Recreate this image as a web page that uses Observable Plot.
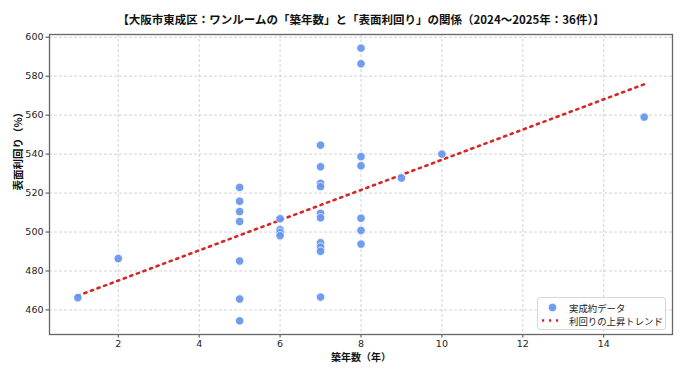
<!DOCTYPE html>
<html>
<head>
<meta charset="utf-8">
<script src="https://cdn.jsdelivr.net/npm/d3@7"></script>
<script src="https://cdn.jsdelivr.net/npm/@observablehq/plot@0.6"></script>
<style>
  html, body { margin: 0; padding: 0; background: #fff; }
  #wrap { position: relative; width: 682px; height: 375px; }
  .legend {
    position: absolute; left: 537px; top: 297px; width: 129px; height: 33px;
    box-sizing: border-box; border: 1px solid #d8d8d8; border-radius: 3px; background: rgba(255,255,255,0.85);
    font-family: "Noto Sans CJK JP", sans-serif; font-size: 9.4px; color: #222;
  }
  .legend .row { position: absolute; left: 0; height: 13px; display: flex; align-items: center; }
  .legend svg { display: block; }
</style>
</head>
<body>
<div id="wrap"></div>
<script>
// Building age (years) and surface yield for each closed deal
const ages = [1, 2,
  5, 5, 5, 5, 5, 5, 5,
  6, 6, 6, 6,
  7, 7, 7, 7, 7, 7, 7, 7, 7, 7,
  8, 8, 8, 8, 8, 8, 8,
  9, 10, 15];
const yields = [466.3, 486.4,
  522.9, 515.8, 510.5, 505.4, 485.1, 465.6, 454.4,
  506.8, 501.2, 499.8, 498.1,
  544.6, 533.5, 525.0, 523.3, 509.6, 507.3, 494.5, 492.3, 490.1, 466.6,
  594.4, 586.4, 538.7, 534.0, 507.1, 500.8, 493.8,
  527.7, 540.0, 559.0];
const xTicks = [2, 4, 6, 8, 10, 12, 14];
const yTicks = [460, 480, 500, 520, 540, 560, 580, 600];

const titleText = "【大阪市東成区：ワンルームの「築年数」と「表面利回り」の関係（2024〜2025年：36件）】";
const xLabel = "築年数（年）";
const yLabel = "表面利回り（%）";
const legendLabels = ["実成約データ", "利回りの上昇トレンド"];

const deals = ages.map((a, i) => ({age: a, yield: yields[i]}));

const pointColor = "#6495ED";
const trendColor = "#d62728";
const jp = "'Noto Sans CJK JP', sans-serif";

const chart = Plot.plot({
  width: 682,
  height: 375,
  marginLeft: 49,
  marginRight: 10,
  marginTop: 34,
  marginBottom: 41,
  style: {fontFamily: "'DejaVu Sans', sans-serif", fontSize: "9.5px", color: "#222", background: "#fff"},
  x: {domain: [0.3, 15.7]},
  y: {domain: [447.4, 601.4]},
  marks: [
    Plot.gridX(xTicks, {stroke: "#bbb", strokeOpacity: 0.8, strokeDasharray: "3,2", strokeWidth: 0.8}),
    Plot.gridY(yTicks, {stroke: "#bbb", strokeOpacity: 0.8, strokeDasharray: "3,2", strokeWidth: 0.8}),
    Plot.axisX(xTicks, {tickSize: 3.5, tickPadding: 2.5, label: null, stroke: "#444"}),
    Plot.axisY(yTicks, {tickSize: 3.5, tickPadding: 2.5, label: null, stroke: "#444"}),
    Plot.frame({stroke: "#666", strokeWidth: 1.3}),
    Plot.linearRegressionY(deals, {
      x: "age", y: "yield", ci: 0,
      stroke: trendColor, strokeWidth: 2.6, strokeDasharray: "2.2,4.8"
    }),
    Plot.dot(deals, {
      x: "age", y: "yield", r: 4.2,
      fill: pointColor, fillOpacity: 0.92, stroke: "#fff", strokeWidth: 0.7
    }),
    Plot.text([titleText], {
      frameAnchor: "top", dy: -19, fontFamily: jp, fontSize: 11.5, fontWeight: "bold", fill: "#111"
    }),
    Plot.text([xLabel], {
      frameAnchor: "bottom", dy: 26, fontFamily: jp, fontSize: 10, fontWeight: "bold", fill: "#111"
    }),
    Plot.text([yLabel], {
      frameAnchor: "left", dx: -31, dy: 6, rotate: -90, fontFamily: jp, fontSize: 10.5, fontWeight: "bold", fill: "#111"
    })
  ]
});

const wrap = document.getElementById("wrap");
wrap.appendChild(chart);

// Legend box inside the lower right of the plot area
const legend = document.createElement("div");
legend.className = "legend";
legend.innerHTML = `
  <div class="row" style="top:3px">
    <svg width="30" height="13"><circle cx="14.5" cy="6.5" r="4.2" fill="${pointColor}" fill-opacity="0.92" stroke="#fff" stroke-width="0.7"/></svg>
    <span style="margin-left:1px">${legendLabels[0]}</span>
  </div>
  <div class="row" style="top:16px">
    <svg width="30" height="13"><line x1="4" x2="23" y1="6.5" y2="6.5" stroke="${trendColor}" stroke-width="2.6" stroke-dasharray="2.2,4.8"/></svg>
    <span style="margin-left:1px">${legendLabels[1]}</span>
  </div>`;
wrap.appendChild(legend);
</script>
</body>
</html>
